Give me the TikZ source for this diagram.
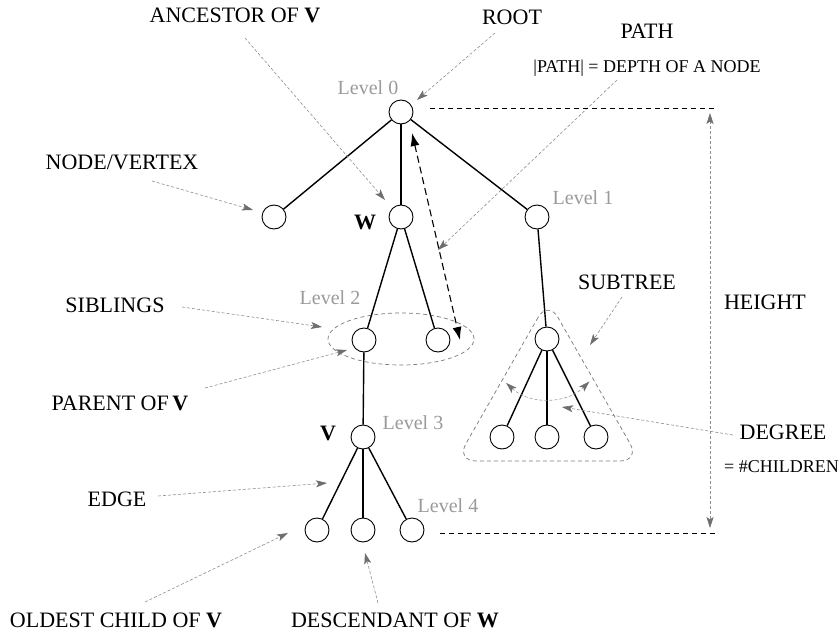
\documentclass[tikz,border=0pt]{standalone}
\usepackage{fontspec}
\setmainfont{Liberation Serif}
\usetikzlibrary{arrows.meta,shapes.geometric}
\definecolor{levelgray}{HTML}{9A9A9A}
\definecolor{notegray}{HTML}{8E8E8E}
\definecolor{headgray}{HTML}{6E6E6E}
\definecolor{hullgray}{HTML}{7A7A7A}

\begin{document}
\begin{tikzpicture}[x=1pt,y=-1pt,
  vertex/.style={circle,draw,line width=0.9pt,minimum size=24pt,inner sep=0pt,fill=white},
  treeedge/.style={line width=1.4pt},
  lbl/.style={font=\fontsize{22}{24}\selectfont,inner sep=0pt,anchor=base},
  smalllbl/.style={font=\fontsize{18}{20}\selectfont,inner sep=0pt,anchor=base},
  lvl/.style={font=\fontsize{20}{22}\selectfont,text=levelgray,inner sep=0pt,anchor=base},
  vmark/.style={font=\bfseries\fontsize{22}{24}\selectfont,inner sep=0pt,anchor=base},
  gtip/.tip={Stealth[length=11pt,width=7pt,inset=2.5pt,color=headgray]},
  note/.style={draw=notegray,line width=0.6pt,dash pattern=on 3pt off 2pt,-{gtip}},
  twonote/.style={draw=notegray,line width=0.6pt,dash pattern=on 3pt off 2pt,{gtip}-{gtip}},
  hull/.style={draw=hullgray,line width=0.7pt,dash pattern=on 4pt off 3pt},
  guide/.style={line width=0.8pt,dash pattern=on 5pt off 4pt},
  pathway/.style={line width=1.1pt,dash pattern=on 7pt off 4pt,
    {Latex[length=13pt,width=9pt]}-{Latex[length=13pt,width=9pt]}},
]
\useasboundingbox (0,0) rectangle (840,634);

% groupings drawn first, behind the tree
\node[ellipse,hull,minimum width=146pt,minimum height=52pt,inner sep=0pt] (sibs) at (401,339) {};
\draw[hull,rounded corners=20pt] (548,300) -- (456,461) -- (640,461) -- cycle;

% tree vertices
\node[vertex] (root) at (401,112) {};
\node[vertex] (n1a)  at (274,217) {};
\node[vertex] (w)    at (401,217) {};
\node[vertex] (n1c)  at (537,217) {};
\node[vertex] (n2a)  at (364,340) {};
\node[vertex] (n2b)  at (438,340) {};
\node[vertex] (sub)  at (547,339) {};
\node[vertex] (s1)   at (502,437) {};
\node[vertex] (s2)   at (547,437) {};
\node[vertex] (s3)   at (596,437) {};
\node[vertex] (v)    at (363,437) {};
\node[vertex] (c1)   at (317,530) {};
\node[vertex] (c2)   at (363,530) {};
\node[vertex] (c3)   at (412,530) {};

% tree edges
\draw[treeedge] (root) -- (n1a);
\draw[treeedge] (root) -- (w);
\draw[treeedge] (root) -- (n1c);
\draw[treeedge] (w) -- (n2a);
\draw[treeedge] (w) -- (n2b);
\draw[treeedge] (n1c) -- (sub);
\draw[treeedge] (sub) -- (s1);
\draw[treeedge] (sub) -- (s2);
\draw[treeedge] (sub) -- (s3);
\draw[treeedge] (n2a) -- (v);
\draw[treeedge] (v) -- (c1);
\draw[treeedge] (v) -- (c2);
\draw[treeedge] (v) -- (c3);

% level captions and vertex marks
\node[lvl] (lv0) at (368,94)  {Level 0};
\node[lvl] (lv1) at (583,204) {Level 1};
\node[lvl] (lv2) at (330,304) {Level 2};
\node[lvl] (lv3) at (413,429) {Level 3};
\node[lvl] (lv4) at (448,512) {Level 4};
\node[vmark] (wm) at (365,229) {W};
\node[vmark] (vm) at (328,440) {V};

% terms
\node[lbl] (tanc)  at (235,23)  {ANCESTOR OF \textbf{V}};
\node[lbl] (troot) at (512,25)  {ROOT};
\node[lbl] (tpath) at (647,39)  {PATH};
\node[smalllbl] (tdepth) at (647,73) {|PATH| = DEPTH OF A NODE};
\node[lbl] (tnode) at (122,169) {NODE/VERTEX};
\node[lbl] (tsib)  at (115,312) {SIBLINGS};
\node[lbl] (tpar)  at (120,410) {PARENT OF\,\textbf{V}};
\node[lbl] (tedge) at (117,506) {EDGE};
\node[lbl] (told)  at (116,627) {OLDEST CHILD OF \textbf{V}};
\node[lbl] (tdesc) at (395,627) {DESCENDANT OF \textbf{W}};
\node[lbl] (tsub)  at (627,289) {SUBTREE};
\node[lbl] (thgt)  at (765,309) {HEIGHT};
\node[lbl] (tdeg)  at (783,439) {DEGREE};
\node[smalllbl,anchor=base east] (tchild) at (839,472) {= \#CHILDREN};

% pointer ends
\coordinate (a0) at (245,38);  \coordinate (a1) at (385,200);
\coordinate (r0) at (495,33);  \coordinate (r1) at (417,100);
\coordinate (p0) at (617,80);  \coordinate (p1) at (438,250);
\coordinate (nv0) at (152,181); \coordinate (nv1) at (253,210);
\coordinate (sb0) at (182,307); \coordinate (sb1) at (322,327);
\coordinate (pa0) at (205,388); \coordinate (pa1) at (347,350);
\coordinate (e0) at (158,496);  \coordinate (e1) at (327,483);
\coordinate (o0) at (145,602);  \coordinate (o1) at (288,533);
\coordinate (d0) at (378,603);  \coordinate (d1) at (365,553);
\coordinate (st0) at (622,297); \coordinate (st1) at (590,345);
\coordinate (dg0) at (733,435); \coordinate (dg1) at (562,407);
\coordinate (h0) at (710,113);  \coordinate (h1) at (710,528);
\coordinate (pt0) at (412,133); \coordinate (pt1) at (460,340);
\coordinate (g0a) at (430,108); \coordinate (g0b) at (717,108);
\coordinate (g4a) at (440,533); \coordinate (g4b) at (717,533);

% annotation pointers
\draw[note] (a0) -- (a1);
\draw[note] (r0) -- (r1);
\draw[note] (p0) -- (p1);
\draw[note] (nv0) -- (nv1);
\draw[note] (sb0) -- (sb1);
\draw[note] (pa0) -- (pa1);
\draw[note] (e0) -- (e1);
\draw[note] (o0) -- (o1);
\draw[note] (d0) -- (d1);
\draw[note] (st0) -- (st1);
\draw[note] (dg0) -- (dg1);

% height: guide lines and measure
\draw[guide] (g0a) -- (g0b);
\draw[guide] (g4a) -- (g4b);
\draw[twonote] (h0) -- (h1);

% root-to-leaf path
\draw[pathway] (pt0) -- (pt1);

% degree arc below the subtree root
\draw[twonote,draw=levelgray] (sub.center) ++(227:60pt) arc[start angle=227,end angle=315,radius=60pt];
\end{tikzpicture}
\end{document}
